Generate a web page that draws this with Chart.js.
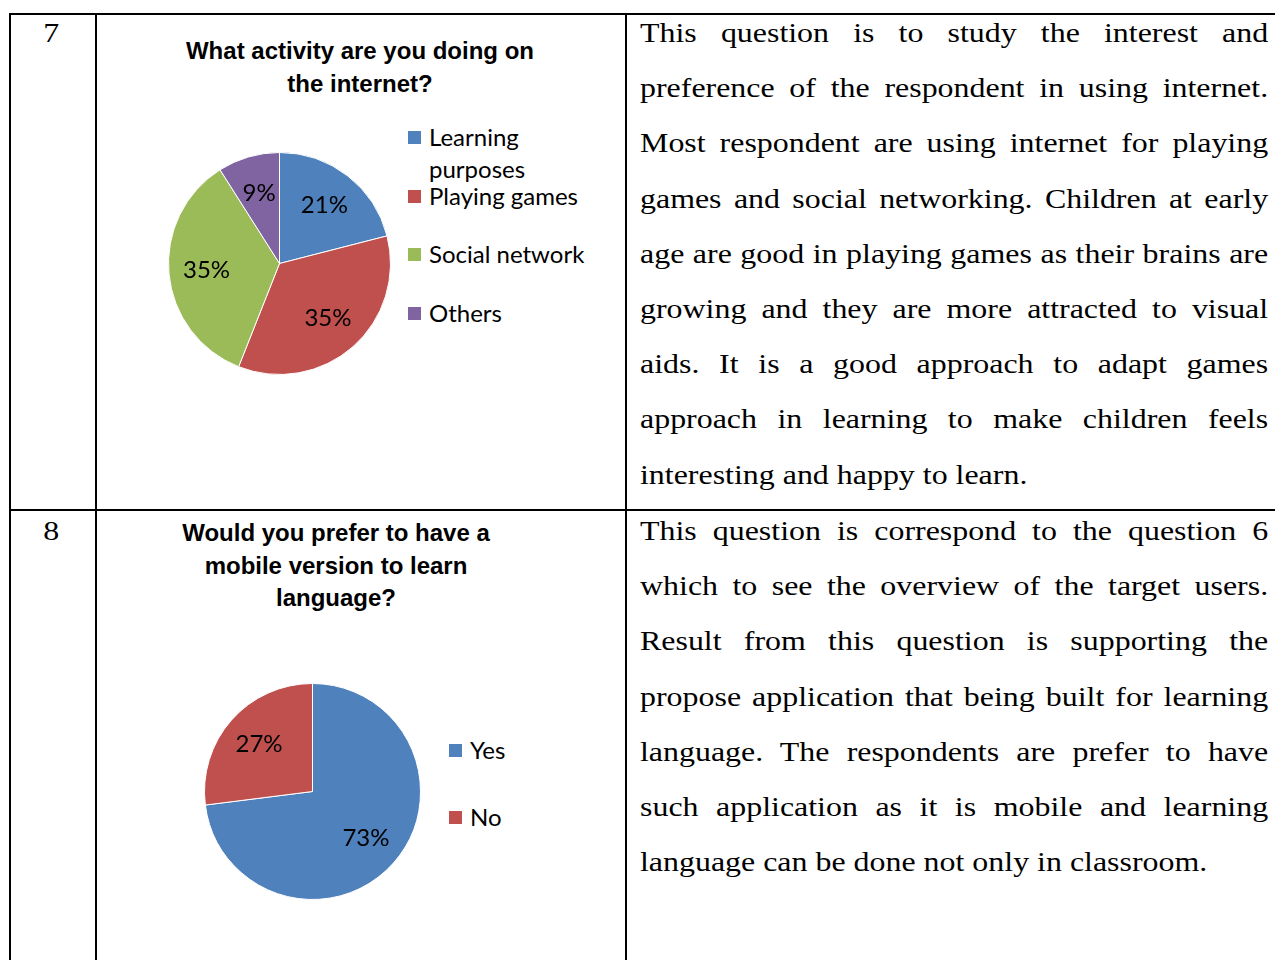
<!DOCTYPE html>
<html>
<head>
<meta charset="utf-8">
<script src="https://cdn.jsdelivr.net/npm/chart.js@4.4.0/dist/chart.umd.min.js"></script>
<style>
  html, body { margin: 0; padding: 0; background: #fff; }
  #page { position: relative; width: 1275px; height: 960px; overflow: hidden; }
  .hl, .vl { position: absolute; background: #000; }
  .num { position: absolute; width: 76px; text-align: center; font-family: "Liberation Serif", serif; font-size: 28px; line-height: 32px; transform: scaleX(1.14); transform-origin: left top; }
  .title { position: absolute; text-align: center; font-family: "Liberation Sans Narrow", "Liberation Sans", sans-serif; font-weight: bold; font-size: 24px; line-height: 32.5px; color: #000; }
  .txt { position: absolute; left: 640px; width: 551px; font-family: "Liberation Serif", serif; font-size: 28px; line-height: 32px; white-space: nowrap; transform: scaleX(1.14); transform-origin: left top; }
  .txt.j { text-align: justify; text-align-last: justify; white-space: normal; }
  .leg { position: absolute; font-family: Lato, "Liberation Sans", sans-serif; font-size: 24px; line-height: 32px; color: #000; }
  .leg i { position: absolute; left: 0; top: 10px; width: 13px; height: 13px; }
  .leg span { display: block; margin-left: 21px; }
  canvas { position: absolute; }
</style>
</head>
<body>
<div id="page">
  <div class="hl" style="left:9px;top:13px;width:1266px;height:2px"></div>
  <div class="hl" style="left:9px;top:509px;width:1266px;height:2px"></div>
  <div class="vl" style="left:9px;top:13px;width:2px;height:947px"></div>
  <div class="vl" style="left:95px;top:13px;width:2px;height:947px"></div>
  <div class="vl" style="left:625px;top:13px;width:2px;height:947px"></div>

  <div class="num" style="left:8px;top:17px">7</div>
  <div class="num" style="left:8px;top:515px">8</div>

  <div class="title" style="left:100px;width:520px;top:35px">What activity are you doing on<br>the internet?</div>
  <div class="title" style="left:76px;width:520px;top:517px">Would you prefer to have a<br>mobile version to learn<br>language?</div>

  <canvas id="pie1" width="233" height="233" style="left:163px;top:147px"></canvas>
  <canvas id="pie2" width="227" height="227" style="left:199px;top:678px"></canvas>
  <div id="legend1"></div>
  <div id="legend2"></div>
  <div id="text1"></div>
  <div id="text2"></div>
</div>
<script>
const activityLabels = ['Learning purposes', 'Playing games', 'Social network', 'Others'];
const activityValues = [21, 35, 35, 9];
const mobileLabels = ['Yes', 'No'];
const mobileValues = [73, 27];

const colors = ['#4F81BD', '#C0504D', '#9BBB59', '#8064A2'];

const text1 = [
  'This question is to study the interest and',
  'preference of the respondent in using internet.',
  'Most respondent are using internet for playing',
  'games and social networking. Children at early',
  'age are good in playing games as their brains are',
  'growing and they are more attracted to visual',
  'aids. It is a good approach to adapt games',
  'approach in learning to make children feels',
  'interesting and happy to learn.'
];
const text2 = [
  'This question is correspond to the question 6',
  'which to see the overview of the target users.',
  'Result from this question is supporting the',
  'propose application that being built for learning',
  'language. The respondents are prefer to have',
  'such application as it is mobile and learning',
  'language can be done not only in classroom.'
];

function writeText(id, lines, top) {
  const box = document.getElementById(id);
  lines.forEach(function(line, i) {
    const d = document.createElement('div');
    d.className = 'txt' + (i < lines.length - 1 ? ' j' : '');
    d.style.top = (top + i * 55.2) + 'px';
    d.textContent = line;
    box.appendChild(d);
  });
}
writeText('text1', text1, 17);
writeText('text2', text2, 515);

function buildLegend(id, labels, left, top, step, width) {
  const box = document.getElementById(id);
  labels.forEach(function(label, i) {
    const d = document.createElement('div');
    d.className = 'leg';
    d.style.left = left + 'px';
    d.style.top = (top + i * step) + 'px';
    d.style.width = width + 'px';
    d.innerHTML = '<i style="background:' + colors[i] + '"></i><span>' + label + '</span>';
    box.appendChild(d);
  });
}
buildLegend('legend1', activityLabels, 408, 121, 58.5, 190);
buildLegend('legend2', mobileLabels, 449, 734, 66.5, 120);

// percentage labels placed inside each slice
const pctLabels = {
  id: 'pctLabels',
  afterDatasetsDraw(chart) {
    const ctx = chart.ctx;
    const data = chart.data.datasets[0].data;
    const total = data.reduce((a, b) => a + b, 0);
    ctx.save();
    ctx.fillStyle = '#000';
    ctx.font = '24px Lato, "Liberation Sans", sans-serif';
    ctx.textAlign = 'center';
    ctx.textBaseline = 'middle';
    chart.getDatasetMeta(0).data.forEach(function(arc, i) {
      const p = arc.getProps(['x', 'y', 'startAngle', 'endAngle', 'outerRadius']);
      const mid = (p.startAngle + p.endAngle) / 2;
      const r = p.outerRadius * 0.66;
      ctx.fillText(Math.round(data[i] / total * 100) + '%', p.x + Math.cos(mid) * r, p.y + Math.sin(mid) * r);
    });
    ctx.restore();
  }
};

function makePie(id, labels, values) {
  return new Chart(document.getElementById(id), {
    type: 'pie',
    data: {
      labels: labels,
      datasets: [{
        data: values,
        backgroundColor: colors.slice(0, values.length),
        borderColor: '#fff',
        borderWidth: 1
      }]
    },
    options: {
      responsive: false,
      animation: false,
      layout: { padding: 5 },
      plugins: {
        legend: { display: false },
        tooltip: { enabled: false }
      }
    },
    plugins: [pctLabels]
  });
}

makePie('pie1', activityLabels, activityValues);
makePie('pie2', mobileLabels, mobileValues);
</script>
</body>
</html>
